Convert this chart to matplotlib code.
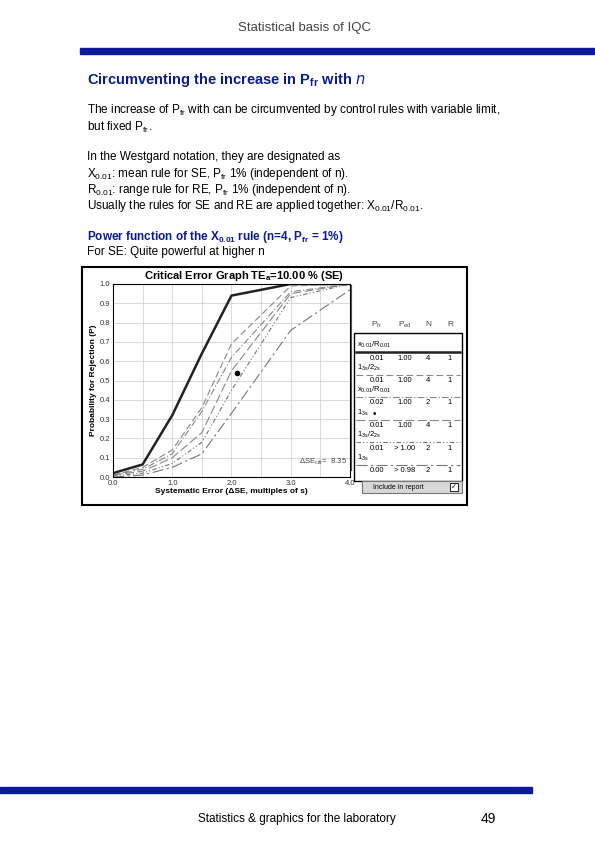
import matplotlib.pyplot as plt
from matplotlib.patches import Rectangle
from matplotlib.lines import Line2D

W, H = 595, 842

# ── Data ──────────────────────────────────────────────────────────────────────
se = [0.0, 0.5, 1.0, 1.5, 2.0, 3.0, 4.0]
p_x01_r01_n4 = [0.02, 0.065, 0.32, 0.64, 0.94, 1.0, 1.0]
p_13s_22s_n4 = [0.01, 0.05, 0.14, 0.36, 0.69, 0.99, 1.0]
p_x01_r01_n2 = [0.01, 0.04, 0.12, 0.34, 0.62, 0.96, 1.0]
p_13s_n4 = [0.01, 0.03, 0.10, 0.23, 0.55, 0.95, 1.0]
p_13s_22s_n2 = [0.005, 0.02, 0.07, 0.18, 0.45, 0.93, 1.0]
p_13s_n2 = [0.0, 0.01, 0.05, 0.12, 0.33, 0.76, 0.97]
op_point = (2.1, 0.54)

rule_names = [r"$\mathregular{x_{0.01}/R_{0.01}}$", r"$\mathregular{1_{3s}/2_{2s}}$",
              r"$\mathregular{x_{0.01}/R_{0.01}}$", r"$\mathregular{1_{3s}}$",
              r"$\mathregular{1_{3s}/2_{2s}}$", r"$\mathregular{1_{3s}}$"]
pfr = ["0.01", "0.01", "0.02", "0.01", "0.01", "0.00"]
ped = ["1.00", "1.00", "1.00", "1.00", "> 1.00", "> 0.98"]
n_vals = ["4", "4", "2", "4", "2", "2"]
r_vals = ["1", "1", "1", "1", "1", "1"]
styles = [dict(color="#222222", lw=1.8, ls="-"),
          dict(color="#888888", lw=0.8, ls=(0, (6, 3))),
          dict(color="#888888", lw=0.8, ls=(0, (6, 2, 1, 2))),
          dict(color="#888888", lw=0.8, ls=(0, (8, 3))),
          dict(color="#777777", lw=0.8, ls=(0, (4, 2, 1, 2, 1, 2))),
          dict(color="#777777", lw=0.8, ls=(0, (10, 3, 2, 3)))]
curves = [p_x01_r01_n4, p_13s_22s_n4, p_x01_r01_n2, p_13s_n4, p_13s_22s_n2, p_13s_n2]

fig = plt.figure(figsize=(W / 100, H / 100), dpi=100)
plt.rcParams["font.family"] = ["Liberation Sans", "DejaVu Sans"]

def ft(x, y, s, **kw):
    fig.text(x / W, 1 - y / H, s, **kw)

def fig_rect(x, y, w, h, **kw):
    kw.setdefault("zorder", -1)
    fig.add_artist(Rectangle((x / W, 1 - (y + h) / H), w / W, h / H,
                             transform=fig.transFigure, **kw))

def fig_line(x0, y0, x1, y1, **kw):
    fig.add_artist(Line2D([x0 / W, x1 / W], [1 - y0 / H, 1 - y1 / H],
                          transform=fig.transFigure, **kw))

# ── Page text ─────────────────────────────────────────────────────────────────
ft(304, 28, "Statistical basis of IQC", ha="center", va="center", fontsize=9.5, color="#444444")
fig_rect(80, 48, 515, 6, color="#0a1a9a")
ft(87, 80, r"Circumventing the increase in P$_{\mathregular{fr}}$ with $n$",
   fontsize=10.5, fontweight="bold", color="#0a1a9a", va="center")
body = [
    (110, r"The increase of P$_{\mathregular{fr}}$ with can be circumvented by control rules with variable limit,"),
    (127, r"but fixed P$_{\mathregular{fr}}$."),
    (157, "In the Westgard notation, they are designated as"),
    (174, r"X$_{\mathregular{0.01}}$: mean rule for SE, P$_{\mathregular{fr}}$ 1% (independent of n)."),
    (190, r"R$_{\mathregular{0.01}}$: range rule for RE, P$_{\mathregular{fr}}$ 1% (independent of n)."),
    (206, r"Usually the rules for SE and RE are applied together: X$_{\mathregular{0.01}}$/R$_{\mathregular{0.01}}$."),
]
for y, s in body:
    ft(87, y, s, fontsize=8.5, va="center")
ft(87, 237, r"Power function of the X$_{\mathregular{0.01}}$ rule (n=4, P$_{\mathregular{fr}}$ = 1%)",
   fontsize=8.5, fontweight="bold", color="#0a1a9a", va="center")
ft(87, 252, "For SE: Quite powerful at higher n", fontsize=8.5, va="center")

# ── Screenshot frame ──────────────────────────────────────────────────────────
fig_rect(82, 267, 385, 238, facecolor="white", edgecolor="black", lw=1.5, zorder=-2)
ft(244, 276, r"Critical Error Graph TE$_{\mathregular{a}}$=10.00 % (SE)",
   ha="center", va="center", fontsize=8, fontweight="bold")

# ── Chart ─────────────────────────────────────────────────────────────────────
x0, x1, y0, y1 = 113, 350, 284, 477
ax = fig.add_axes([x0 / W, 1 - y1 / H, (x1 - x0) / W, (y1 - y0) / H])
ax.set_zorder(3)
for yv, st in zip(curves, styles):
    ax.plot(se, yv, **st)
ax.plot(*op_point, "o", color="black", ms=3)
ax.set_xlim(0, 4)
ax.set_ylim(0, 1)
ax.set_xticks([0, 1, 2, 3, 4])
ax.set_xticks([0.5, 1.5, 2.5, 3.5], minor=True)
ax.set_xticklabels(["0.0", "1.0", "2.0", "3.0", "4.0"])
ax.set_yticks([i / 10 for i in range(11)])
ax.set_yticklabels([f"{i / 10:.1f}" for i in range(11)])
ax.tick_params(which="both", labelsize=5.5, length=0, pad=2, colors="#333333")
ax.grid(True, which="both", color="#cccccc", lw=0.5)
for s in ax.spines.values():
    s.set_linewidth(0.8)
ax.set_xlabel("Systematic Error (ΔSE, multiples of s)", fontsize=6, fontweight="bold", labelpad=1)
ax.set_ylabel("Probability for Rejection (P)", fontsize=6, fontweight="bold", labelpad=2)
ax.text(3.95, 0.07, r"ΔSE$_{\mathregular{crit}}$=  8.35", ha="right", fontsize=5.5, color="#444444")

# ── Legend panel ──────────────────────────────────────────────────────────────
fig_line(351, 285, 351, 470, color="#555555", lw=0.8)
for x, s in [(377, r"P$_{\mathregular{fr}}$"), (405, r"P$_{\mathregular{ed}}$"), (428, "N"), (450, "R")]:
    ft(x, 325, s, ha="center", va="center", fontsize=6, color="#444444")
fig_rect(354, 333, 108, 148, facecolor="none", edgecolor="black", lw=1)
for i in range(6):
    yb = 352 + i * 22.5
    ft(357, yb - 7, rule_names[i], fontsize=5.5, va="center")
    fig_line(356, yb, 460, yb, **styles[i])
    for x, s in [(377, pfr[i]), (405, ped[i]), (428, n_vals[i]), (450, r_vals[i])]:
        ft(x, yb + 6, s, ha="center", va="center", fontsize=5.5)
ft(373, 414, "•", fontsize=7, va="center")
fig_rect(362, 481, 100, 12, facecolor="#d8d8d8", edgecolor="#777777", lw=0.8)
ft(398, 487, "Include in report", ha="center", va="center", fontsize=5)
fig_rect(450, 483, 8, 8, facecolor="white", edgecolor="black", lw=0.6, zorder=0)
ft(454, 487, "✓", ha="center", va="center", fontsize=5, family=["DejaVu Sans"])

# ── Footer ────────────────────────────────────────────────────────────────────
fig_rect(0, 787, 532, 6, color="#0a1a9a")
ft(297, 819, "Statistics & graphics for the laboratory", ha="center", va="center", fontsize=8.5)
ft(488, 819, "49", ha="center", va="center", fontsize=10)

fig.savefig("out.png", dpi=100)
